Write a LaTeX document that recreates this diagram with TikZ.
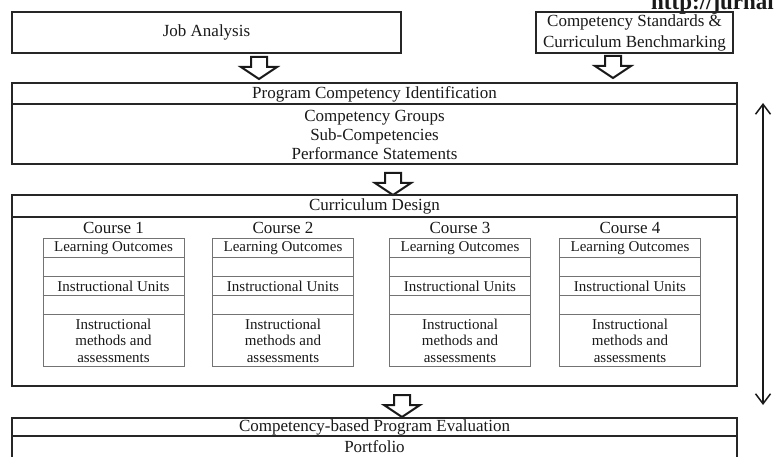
\documentclass[tikz,border=0pt]{standalone}
\usepackage{fontspec}
\setmainfont{Liberation Serif}
\usetikzlibrary{arrows.meta}
\begin{document}
\begin{tikzpicture}[x=1bp,y=-1bp,
  bigbox/.style={draw=black!85, line width=1.8bp, rectangle, inner sep=0pt},
  divline/.style={draw=black!85, line width=1.8bp},
  cellbox/.style={draw=black!55, line width=0.9bp, rectangle, inner sep=0pt},
  celldiv/.style={draw=black!55, line width=0.9bp},
  txt/.style={font=\fontsize{17bp}{21bp}\selectfont, text=black!90, align=center, inner sep=0pt},
  small/.style={font=\fontsize{15bp}{16.5bp}\selectfont, text=black!90, align=center, inner sep=0pt},
  blockarrow/.style={draw=black!90, line width=2bp, fill=white, line join=miter},
  pics/blockarr/.style={code={\draw[blockarrow] (-8,0) -- (-8,10) -- (-18,10) -- (0,22) -- (18,10) -- (8,10) -- (8,0) -- cycle;}},
  barb/.style={line width=1.5bp, draw=black!90, {Straight Barb[length=10bp,width=15bp]}-{Straight Barb[length=10bp,width=15bp]}}
]
\useasboundingbox (0,0) rectangle (774,457);
\clip (0,0) rectangle (774,457);

% header url (clipped in the reference)
\node[txt, anchor=base west, font=\fontsize{23bp}{23bp}\selectfont\bfseries] (url) at (651,10) {http://jurnal};

% top boxes
\node[bigbox, txt, minimum width=389bp, minimum height=41bp] (ja) at (206.5,32.5) {Job Analysis};
\node[bigbox, txt, minimum width=197bp, minimum height=41bp] (cs) at (634.5,32.5) {Competency Standards \&\\Curriculum Benchmarking};

% arrows to program box
\coordinate (a1) at (259,57);
\coordinate (a2) at (613,56);
\pic at (a1) {blockarr};
\pic at (a2) {blockarr};

% Program Competency Identification
\node[bigbox, minimum width=725bp, minimum height=81bp] (pci) at (374.5,123.5) {};
\draw[divline] (pci.north west) ++(0,22) -- ++(725,0);
\node[txt] (pcih) at (374.5,94) {Program Competency Identification};
\node[txt, font=\fontsize{17bp}{19bp}\selectfont] (pcib) at (374.5,134.5) {Competency Groups\\Sub-Competencies\\Performance Statements};

% arrow to curriculum design
\coordinate (a3) at (393,173);
\pic at (a3) {blockarr};

% Curriculum Design
\node[bigbox, minimum width=725bp, minimum height=191bp] (cd) at (374.5,290.5) {};
\draw[divline] (cd.north west) ++(0,23) -- ++(725,0);
\node[txt] (cdh) at (374.5,206.5) {Curriculum Design};

\foreach \cx/\n in {113.5/1, 283/2, 460/3, 630/4}{
  \node[txt] (ct\n) at (\cx,228) {Course \n};
  \node[cellbox, minimum width=141bp, minimum height=128bp] (c\n) at (\cx,302) {};
  \draw[celldiv] (c\n.north west) ++(0,20) -- ++(141,0);
  \draw[celldiv] (c\n.north west) ++(0,39) -- ++(141,0);
  \draw[celldiv] (c\n.north west) ++(0,58) -- ++(141,0);
  \draw[celldiv] (c\n.north west) ++(0,77) -- ++(141,0);
  \node[small] (lo\n) at (\cx,248) {Learning Outcomes};
  \node[small] (iu\n) at (\cx,286.5) {Instructional Units};
  \node[small] (im\n) at (\cx,340.5) {Instructional\\methods and\\assessments};
}

% arrow to evaluation
\coordinate (a4) at (402,395);
\pic at (a4) {blockarr};

% Competency-based Program Evaluation
\node[bigbox, minimum width=725bp, minimum height=52bp] (ev) at (374.5,444) {};
\draw[divline] (ev.north west) ++(0,19) -- ++(725,0);
\node[txt] (evh) at (374.5,427.5) {Competency-based Program Evaluation};
\node[txt] (evp) at (374.5,447) {Portfolio};

% feedback double arrow
\coordinate (fbt) at (763,103);
\coordinate (fbb) at (763,405);
\draw[barb] (fbt) -- (fbb);
\end{tikzpicture}
\end{document}
